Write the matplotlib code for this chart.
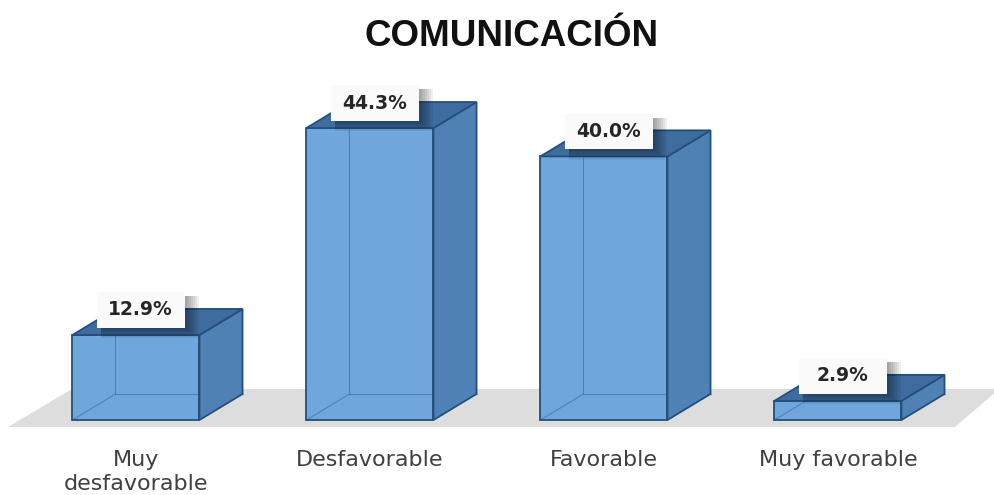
import matplotlib
matplotlib.use("Agg")
import matplotlib.pyplot as plt
from matplotlib.patches import Polygon, Rectangle

categories = ["Muy\ndesfavorable", "Desfavorable", "Favorable", "Muy favorable"]
values = [12.9, 44.3, 40.0, 2.9]
title = "COMUNICACIÓN"

FRONT = "#6fa6db"
SIDE = "#4f81b5"
TOP = "#3e6c9f"
EDGE = "#234f7c"
FLOOR = "#dddddd"

W = 0.543              # bar front width
DX, DY = 0.184, 3.95   # depth offset of the 3-D boxes
BOX_W, BOX_H = 0.376, 5.4
PX, PY = 1 / 234, 1 / 6.59   # one pixel in data units

fig = plt.figure(figsize=(9.94, 4.95), dpi=100)
ax = fig.add_axes([0, 0, 1, 1])
ax.set_xlim(-0.581, 3.667)
ax.set_ylim(-11.38, 63.73)
ax.axis("off")

# floor plane under the bars
floor = Polygon([(-0.547, -1.06), (3.50, -1.06), (3.69, 4.7), (-0.274, 4.7)],
                closed=True, facecolor=FLOOR, edgecolor="none", zorder=0)
ax.add_patch(floor)

for i, v in enumerate(values):
    x0, x1 = i - W / 2, i + W / 2
    ax.bar(i, v, W, bottom=0, color=FRONT, edgecolor=EDGE, linewidth=1.3, zorder=2)
    # hidden back edges seen through the front face
    ax.plot([x0, x0 + DX, x0 + DX], [0, DY, v + DY], color=EDGE, lw=0.8,
            alpha=0.4, zorder=3)
    ax.plot([x0 + DX, x1 + DX], [DY, DY], color=EDGE, lw=0.8, alpha=0.4, zorder=3)
    side = Polygon([(x1, 0), (x1 + DX, DY), (x1 + DX, v + DY), (x1, v)],
                   closed=True, facecolor=SIDE, edgecolor=EDGE, lw=1.3, zorder=3)
    top = Polygon([(x0, v), (x1, v), (x1 + DX, v + DY), (x0 + DX, v + DY)],
                  closed=True, facecolor=TOP, edgecolor=EDGE, lw=1.3, zorder=3)
    ax.add_patch(side)
    ax.add_patch(top)

    # value label box, shadow falls to the right and below
    cx, cy = i + 0.02, v + 3.8
    bx0, by0 = cx - BOX_W / 2, cy - BOX_H / 2
    for k in range(1, 8):
        ax.add_patch(Rectangle((bx0 + 4 * PX, by0 - 1.5 * k * PY),
                               BOX_W + 2 * k * PX - 4 * PX, BOX_H - 4 * PY + 1.5 * k * PY,
                               facecolor="black", alpha=0.06, edgecolor="none",
                               zorder=4))
    ax.add_patch(Rectangle((bx0, by0), BOX_W, BOX_H,
                           facecolor="#fafafa", edgecolor="none", zorder=5))
    ax.text(cx, cy, f"{v:.1f}%", ha="center", va="center", fontsize=13.5,
            fontweight="bold", color="#262626", zorder=6)

    ax.text(i, -4.5, categories[i], ha="center", va="top", fontsize=16,
            color="#404040", linespacing=1.3)

fig.text(0.515, 0.927, title, ha="center", va="center", fontsize=26.5,
         fontweight="bold", family="Liberation Sans", color="#111111")

fig.savefig("out.png", dpi=100)
